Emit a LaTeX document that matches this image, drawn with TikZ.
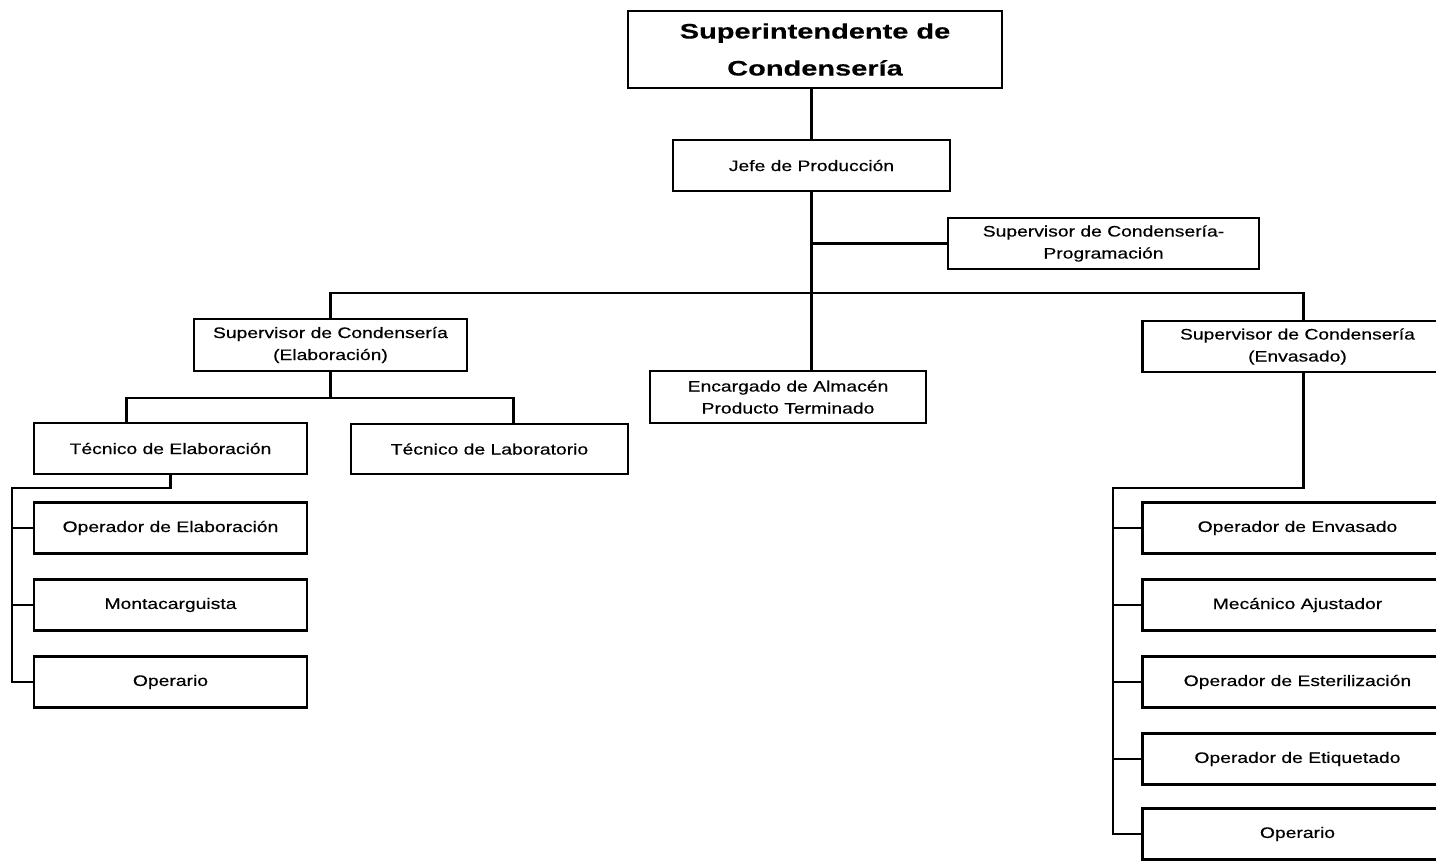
\documentclass[tikz,border=0pt]{standalone}
\usepackage{fontspec}
\setmainfont{Liberation Sans}
\newfontfamily\bodyfont{Liberation Sans}[FakeStretch=1.27,FakeBold=0.4]
\newfontfamily\titlefont{Liberation Sans Bold}[FakeStretch=1.38,FakeBold=0.3]
\begin{document}
\begin{tikzpicture}[x=0.5pt,y=-0.5pt,
  box/.style={draw=black,line width=1.2pt,fill=white,inner sep=0pt,align=center,
    font=\bodyfont\fontsize{7.6}{11}\selectfont,minimum height=25.5pt},
  narrow/.style={box,minimum width=136.5pt},
  wide/.style={box,minimum width=155pt},
  link/.style={draw=black,line width=1.2pt}]
\useasboundingbox (0,0) rectangle (1436,861);
\clip (0,0) rectangle (1436,861);
\fill[white] (0,0) rectangle (1436,861);

% top of the chart
\node[box,minimum width=187pt,minimum height=38.5pt,
  font=\titlefont\fontsize{10.5}{18.5}\selectfont] (sup) at (815,49.5)
  {Superintendente de\\Condensería};
\node[box,minimum width=138.5pt] (jefe) at (811.5,165.5) {Jefe de Producción};
\node[box,minimum width=155.5pt] (prog) at (1103.5,243.5) {Supervisor de Condensería-\\Programación};

% second level
\node[narrow,minimum height=26pt] (elab) at (330.5,345) {Supervisor de Condensería\\(Elaboración)};
\node[box,minimum width=138pt,minimum height=26pt] (alm) at (788,397) {Encargado de Almacén\\Producto Terminado};
\node[wide] (env) at (1297.5,346.5) {Supervisor de Condensería\\(Envasado)};

% elaboration branch
\node[narrow] (tecel) at (170.5,448.5) {Técnico de Elaboración};
\node[box,minimum width=138.5pt,minimum height=25pt] (teclab) at (489.5,449) {Técnico de Laboratorio};
\node[narrow] (l1) at (170.5,528) {Operador de Elaboración};
\node[narrow] (l2) at (170.5,605) {Montacarguista};
\node[narrow] (l3) at (170.5,682) {Operario};

% packaging branch
\node[wide] (r1) at (1297.5,528) {Operador de Envasado};
\node[wide] (r2) at (1297.5,605) {Mecánico Ajustador};
\node[wide] (r3) at (1297.5,682) {Operador de Esterilización};
\node[wide] (r4) at (1297.5,759) {Operador de Etiquetado};
\node[wide] (r5) at (1297.5,834) {Operario};

% junction points
\coordinate (bus) at (811,293);
\coordinate (ej) at (330.5,398);
\coordinate (lt) at (12,488);
\coordinate (rt) at (1113,488);

% connectors
\draw[link] (jefe.north) -- (jefe.north |- sup.south);
\draw[link] (jefe.south) -- (jefe.south |- alm.north);
\draw[link] (prog.west) -- (prog.west -| jefe.south);
\draw[link] (elab.north) |- (bus) -| ([xshift=3pt]env.north);
\draw[link] (elab.south) -- (ej);
\draw[link] ([xshift=-22pt]tecel.north) |- (ej) -| ([xshift=12pt]teclab.north);
\draw[link] (tecel.south) |- (lt) |- (l3.west);
\draw[link] (lt |- l1.west) -- (l1.west);
\draw[link] (lt |- l2.west) -- (l2.west);
\draw[link] ([xshift=3pt]env.south) |- (rt) |- (r5.west);
\draw[link] (rt |- r1.west) -- (r1.west);
\draw[link] (rt |- r2.west) -- (r2.west);
\draw[link] (rt |- r3.west) -- (r3.west);
\draw[link] (rt |- r4.west) -- (r4.west);
\end{tikzpicture}
\end{document}
